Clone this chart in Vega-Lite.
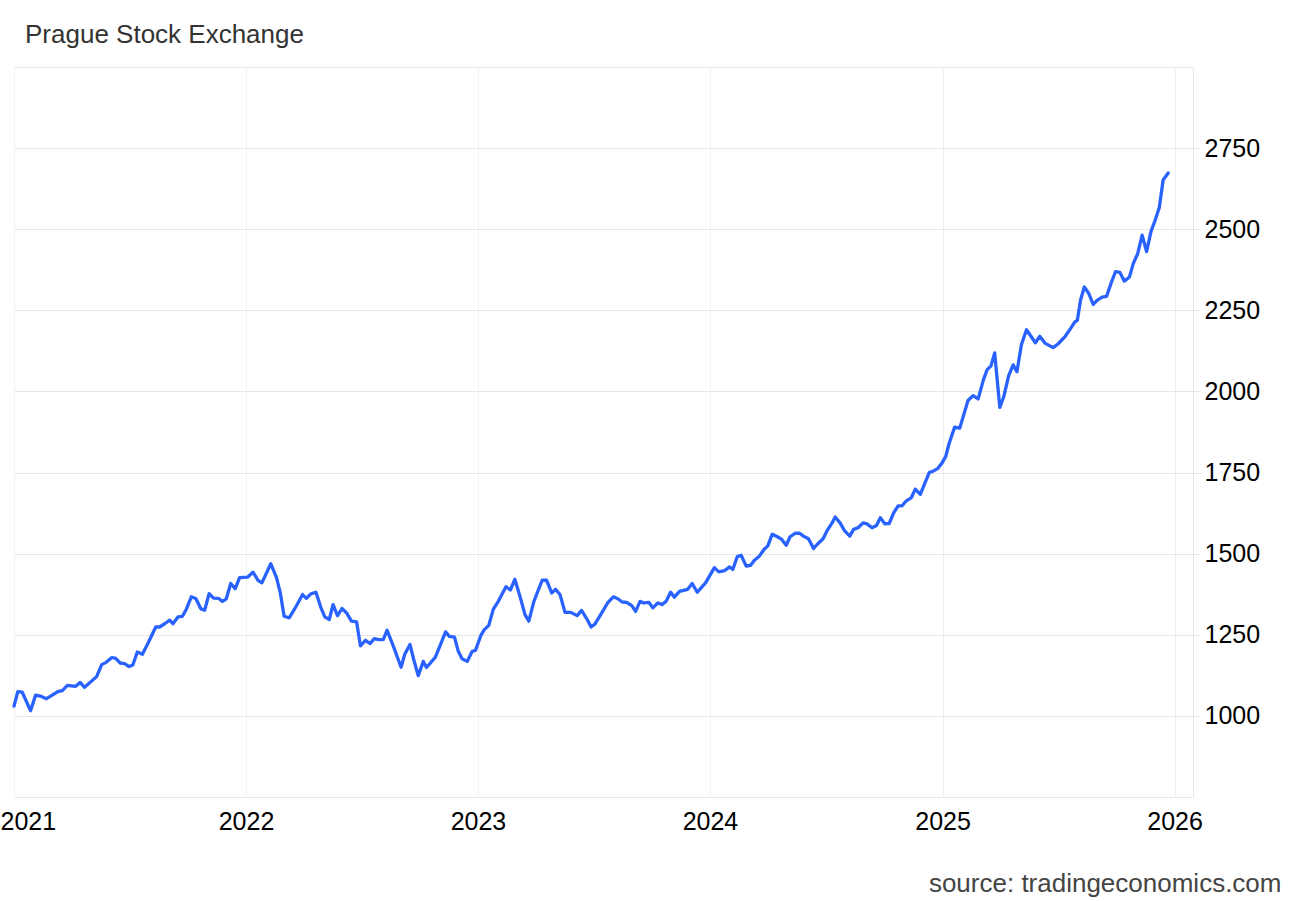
{
  "$schema": "https://vega.github.io/schema/vega-lite/v6.json",
  "width": 1179,
  "height": 730,
  "autosize": "none",
  "padding": {"left": 14, "top": 67, "right": 107, "bottom": 104},
  "background": "white",
  "config": {
    "font": "Liberation Sans",
    "view": {"stroke": "#e6e6e6", "strokeWidth": 1}
  },
  "title": {
    "text": "Prague Stock Exchange",
    "anchor": "start",
    "fontSize": 26,
    "font": "Liberation Sans",
    "fontWeight": "normal",
    "color": "#333333",
    "dx": 25,
    "offset": 19
  },
  "data": {
    "values": [
      {"date": "2021-01-01", "value": 1030},
      {"date": "2021-01-07", "value": 1075},
      {"date": "2021-01-14", "value": 1073},
      {"date": "2021-01-27", "value": 1016},
      {"date": "2021-02-04", "value": 1064},
      {"date": "2021-02-13", "value": 1060},
      {"date": "2021-02-21", "value": 1053},
      {"date": "2021-02-27", "value": 1060},
      {"date": "2021-03-11", "value": 1075},
      {"date": "2021-03-18", "value": 1078},
      {"date": "2021-03-26", "value": 1094},
      {"date": "2021-04-08", "value": 1091},
      {"date": "2021-04-15", "value": 1103},
      {"date": "2021-04-22", "value": 1088},
      {"date": "2021-05-11", "value": 1121},
      {"date": "2021-05-19", "value": 1158},
      {"date": "2021-05-26", "value": 1165},
      {"date": "2021-06-04", "value": 1180},
      {"date": "2021-06-10", "value": 1177},
      {"date": "2021-06-17", "value": 1163},
      {"date": "2021-06-24", "value": 1161},
      {"date": "2021-07-01", "value": 1152},
      {"date": "2021-07-07", "value": 1157},
      {"date": "2021-07-14", "value": 1197},
      {"date": "2021-07-22", "value": 1190},
      {"date": "2021-07-31", "value": 1225},
      {"date": "2021-08-12", "value": 1274},
      {"date": "2021-08-18", "value": 1274},
      {"date": "2021-08-26", "value": 1284},
      {"date": "2021-09-03", "value": 1295},
      {"date": "2021-09-08", "value": 1284},
      {"date": "2021-09-16", "value": 1305},
      {"date": "2021-09-23", "value": 1307},
      {"date": "2021-09-29", "value": 1328},
      {"date": "2021-10-07", "value": 1367},
      {"date": "2021-10-14", "value": 1362},
      {"date": "2021-10-22", "value": 1330},
      {"date": "2021-10-28", "value": 1326},
      {"date": "2021-11-04", "value": 1377},
      {"date": "2021-11-11", "value": 1363},
      {"date": "2021-11-19", "value": 1362},
      {"date": "2021-11-25", "value": 1353},
      {"date": "2021-12-01", "value": 1361},
      {"date": "2021-12-08", "value": 1408},
      {"date": "2021-12-15", "value": 1392},
      {"date": "2021-12-22", "value": 1426},
      {"date": "2022-01-04", "value": 1428},
      {"date": "2022-01-12", "value": 1443},
      {"date": "2022-01-20", "value": 1418},
      {"date": "2022-01-26", "value": 1410},
      {"date": "2022-02-09", "value": 1469},
      {"date": "2022-02-18", "value": 1426},
      {"date": "2022-02-24", "value": 1379},
      {"date": "2022-03-02", "value": 1307},
      {"date": "2022-03-10", "value": 1302},
      {"date": "2022-03-21", "value": 1338},
      {"date": "2022-03-31", "value": 1374},
      {"date": "2022-04-06", "value": 1362},
      {"date": "2022-04-13", "value": 1376},
      {"date": "2022-04-21", "value": 1381},
      {"date": "2022-04-29", "value": 1333},
      {"date": "2022-05-05", "value": 1305},
      {"date": "2022-05-12", "value": 1297},
      {"date": "2022-05-18", "value": 1343},
      {"date": "2022-05-25", "value": 1309},
      {"date": "2022-06-01", "value": 1331},
      {"date": "2022-06-08", "value": 1318},
      {"date": "2022-06-16", "value": 1292},
      {"date": "2022-06-24", "value": 1290},
      {"date": "2022-06-30", "value": 1216},
      {"date": "2022-07-08", "value": 1233},
      {"date": "2022-07-15", "value": 1223},
      {"date": "2022-07-22", "value": 1238},
      {"date": "2022-07-29", "value": 1235},
      {"date": "2022-08-05", "value": 1235},
      {"date": "2022-08-11", "value": 1264},
      {"date": "2022-08-22", "value": 1209},
      {"date": "2022-09-02", "value": 1150},
      {"date": "2022-09-08", "value": 1191},
      {"date": "2022-09-16", "value": 1220},
      {"date": "2022-09-22", "value": 1173},
      {"date": "2022-09-29", "value": 1124},
      {"date": "2022-10-07", "value": 1168},
      {"date": "2022-10-12", "value": 1149},
      {"date": "2022-10-26", "value": 1181},
      {"date": "2022-11-03", "value": 1220},
      {"date": "2022-11-11", "value": 1259},
      {"date": "2022-11-17", "value": 1245},
      {"date": "2022-11-25", "value": 1243},
      {"date": "2022-12-01", "value": 1199},
      {"date": "2022-12-07", "value": 1176},
      {"date": "2022-12-15", "value": 1168},
      {"date": "2022-12-23", "value": 1199},
      {"date": "2022-12-28", "value": 1202},
      {"date": "2023-01-06", "value": 1250},
      {"date": "2023-01-11", "value": 1266},
      {"date": "2023-01-18", "value": 1279},
      {"date": "2023-01-25", "value": 1328},
      {"date": "2023-02-02", "value": 1353},
      {"date": "2023-02-14", "value": 1398},
      {"date": "2023-02-21", "value": 1388},
      {"date": "2023-02-28", "value": 1421},
      {"date": "2023-03-08", "value": 1369},
      {"date": "2023-03-16", "value": 1312},
      {"date": "2023-03-22", "value": 1292},
      {"date": "2023-03-30", "value": 1353},
      {"date": "2023-04-12", "value": 1418},
      {"date": "2023-04-19", "value": 1418},
      {"date": "2023-04-27", "value": 1379},
      {"date": "2023-05-03", "value": 1390},
      {"date": "2023-05-10", "value": 1374},
      {"date": "2023-05-18", "value": 1319},
      {"date": "2023-05-27", "value": 1319},
      {"date": "2023-06-06", "value": 1309},
      {"date": "2023-06-13", "value": 1325},
      {"date": "2023-06-21", "value": 1300},
      {"date": "2023-06-28", "value": 1274},
      {"date": "2023-07-04", "value": 1283},
      {"date": "2023-07-14", "value": 1315},
      {"date": "2023-07-24", "value": 1348},
      {"date": "2023-08-02", "value": 1367},
      {"date": "2023-08-09", "value": 1361},
      {"date": "2023-08-16", "value": 1351},
      {"date": "2023-08-23", "value": 1350},
      {"date": "2023-08-31", "value": 1340},
      {"date": "2023-09-06", "value": 1322},
      {"date": "2023-09-13", "value": 1353},
      {"date": "2023-09-19", "value": 1348},
      {"date": "2023-09-27", "value": 1350},
      {"date": "2023-10-03", "value": 1333},
      {"date": "2023-10-11", "value": 1348},
      {"date": "2023-10-18", "value": 1343},
      {"date": "2023-10-24", "value": 1353},
      {"date": "2023-10-31", "value": 1381},
      {"date": "2023-11-06", "value": 1366},
      {"date": "2023-11-14", "value": 1384},
      {"date": "2023-11-27", "value": 1390},
      {"date": "2023-12-04", "value": 1408},
      {"date": "2023-12-12", "value": 1381},
      {"date": "2023-12-25", "value": 1410},
      {"date": "2024-01-08", "value": 1457},
      {"date": "2024-01-15", "value": 1444},
      {"date": "2024-01-24", "value": 1448},
      {"date": "2024-02-01", "value": 1459},
      {"date": "2024-02-06", "value": 1451},
      {"date": "2024-02-13", "value": 1491},
      {"date": "2024-02-19", "value": 1495},
      {"date": "2024-02-27", "value": 1462},
      {"date": "2024-03-05", "value": 1464},
      {"date": "2024-03-11", "value": 1480},
      {"date": "2024-03-19", "value": 1493},
      {"date": "2024-03-26", "value": 1513},
      {"date": "2024-04-01", "value": 1524},
      {"date": "2024-04-08", "value": 1560},
      {"date": "2024-04-16", "value": 1552},
      {"date": "2024-04-23", "value": 1544},
      {"date": "2024-04-30", "value": 1526},
      {"date": "2024-05-06", "value": 1552},
      {"date": "2024-05-14", "value": 1563},
      {"date": "2024-05-21", "value": 1563},
      {"date": "2024-05-27", "value": 1554},
      {"date": "2024-06-04", "value": 1546},
      {"date": "2024-06-12", "value": 1516},
      {"date": "2024-06-18", "value": 1529},
      {"date": "2024-06-27", "value": 1546},
      {"date": "2024-07-03", "value": 1570},
      {"date": "2024-07-11", "value": 1594},
      {"date": "2024-07-16", "value": 1613},
      {"date": "2024-07-24", "value": 1594},
      {"date": "2024-07-31", "value": 1570},
      {"date": "2024-08-08", "value": 1554},
      {"date": "2024-08-14", "value": 1575},
      {"date": "2024-08-21", "value": 1580},
      {"date": "2024-08-29", "value": 1595},
      {"date": "2024-09-04", "value": 1592},
      {"date": "2024-09-12", "value": 1580},
      {"date": "2024-09-19", "value": 1587},
      {"date": "2024-09-25", "value": 1611},
      {"date": "2024-10-02", "value": 1592},
      {"date": "2024-10-09", "value": 1593},
      {"date": "2024-10-16", "value": 1626},
      {"date": "2024-10-23", "value": 1647},
      {"date": "2024-10-29", "value": 1647},
      {"date": "2024-11-05", "value": 1663},
      {"date": "2024-11-13", "value": 1673},
      {"date": "2024-11-19", "value": 1699},
      {"date": "2024-11-27", "value": 1683},
      {"date": "2024-12-04", "value": 1717},
      {"date": "2024-12-11", "value": 1750},
      {"date": "2024-12-18", "value": 1755},
      {"date": "2024-12-24", "value": 1762},
      {"date": "2024-12-31", "value": 1779},
      {"date": "2025-01-06", "value": 1800},
      {"date": "2025-01-11", "value": 1838},
      {"date": "2025-01-20", "value": 1890},
      {"date": "2025-01-28", "value": 1887},
      {"date": "2025-02-10", "value": 1972},
      {"date": "2025-02-18", "value": 1987},
      {"date": "2025-02-26", "value": 1977},
      {"date": "2025-03-06", "value": 2034},
      {"date": "2025-03-12", "value": 2067},
      {"date": "2025-03-18", "value": 2078},
      {"date": "2025-03-24", "value": 2119},
      {"date": "2025-04-01", "value": 1951},
      {"date": "2025-04-07", "value": 1982},
      {"date": "2025-04-15", "value": 2049},
      {"date": "2025-04-22", "value": 2082},
      {"date": "2025-04-28", "value": 2061},
      {"date": "2025-05-05", "value": 2144},
      {"date": "2025-05-13", "value": 2190},
      {"date": "2025-05-20", "value": 2170},
      {"date": "2025-05-27", "value": 2150},
      {"date": "2025-06-03", "value": 2170},
      {"date": "2025-06-11", "value": 2149},
      {"date": "2025-06-24", "value": 2135},
      {"date": "2025-07-02", "value": 2147},
      {"date": "2025-07-13", "value": 2170},
      {"date": "2025-07-21", "value": 2193},
      {"date": "2025-07-28", "value": 2214},
      {"date": "2025-08-01", "value": 2219},
      {"date": "2025-08-06", "value": 2281},
      {"date": "2025-08-12", "value": 2322},
      {"date": "2025-08-19", "value": 2302},
      {"date": "2025-08-26", "value": 2268},
      {"date": "2025-09-01", "value": 2281},
      {"date": "2025-09-09", "value": 2291},
      {"date": "2025-09-16", "value": 2293},
      {"date": "2025-09-23", "value": 2333},
      {"date": "2025-09-30", "value": 2369},
      {"date": "2025-10-07", "value": 2367},
      {"date": "2025-10-14", "value": 2340},
      {"date": "2025-10-22", "value": 2353},
      {"date": "2025-10-28", "value": 2394},
      {"date": "2025-11-04", "value": 2425},
      {"date": "2025-11-11", "value": 2482},
      {"date": "2025-11-18", "value": 2431},
      {"date": "2025-11-25", "value": 2494},
      {"date": "2025-12-01", "value": 2525},
      {"date": "2025-12-08", "value": 2567},
      {"date": "2025-12-14", "value": 2652},
      {"date": "2025-12-22", "value": 2673}
    ]
  },
  "mark": {"type": "line", "color": "#2962ff", "strokeWidth": 3.3, "strokeJoin": "round", "strokeCap": "round"},
  "encoding": {
    "x": {
      "field": "date",
      "type": "temporal",
      "scale": {
        "type": "utc",
        "domain": [
          {"year": 2021, "month": 1, "date": 1, "utc": true},
          {"year": 2026, "month": 1, "date": 30, "utc": true}
        ]
      },
      "axis": {
        "values": [
          {"year": 2021, "month": 1, "date": 1, "utc": true},
          {"year": 2022, "month": 1, "date": 1, "utc": true},
          {"year": 2023, "month": 1, "date": 1, "utc": true},
          {"year": 2024, "month": 1, "date": 1, "utc": true},
          {"year": 2025, "month": 1, "date": 1, "utc": true},
          {"year": 2026, "month": 1, "date": 1, "utc": true}
        ],
        "format": "%Y",
        "grid": true,
        "gridColor": "#edf1f5",
        "gridWidth": 1,
        "domain": false,
        "ticks": false,
        "labelPadding": 12,
        "labelFontSize": 25,
        "labelColor": "#000000",
        "labelFont": "Liberation Sans",
        "labelFlush": true,
        "labelFlushOffset": 14,
        "labelOverlap": false,
        "title": "source: tradingeconomics.com",
        "titleFont": "Liberation Sans",
        "titleFontSize": 26,
        "titleFontWeight": "normal",
        "titleColor": "#444444",
        "titleAnchor": "end",
        "titleAlign": "right",
        "titleBaseline": "alphabetic",
        "titleX": 1267,
        "titleY": 94
      }
    },
    "y": {
      "field": "value",
      "type": "quantitative",
      "scale": {"domain": [750, 3000], "nice": false, "zero": false},
      "axis": {
        "orient": "right",
        "values": [1000, 1250, 1500, 1750, 2000, 2250, 2500, 2750],
        "format": "d",
        "grid": true,
        "gridColor": "#e6e6e6",
        "gridWidth": 1,
        "domain": false,
        "ticks": true,
        "tickSize": 7,
        "tickColor": "#e6e6e6",
        "labelPadding": 4,
        "labelFontSize": 25,
        "labelColor": "#000000",
        "labelFont": "Liberation Sans",
        "labelOverlap": false,
        "title": null
      }
    }
  }
}
